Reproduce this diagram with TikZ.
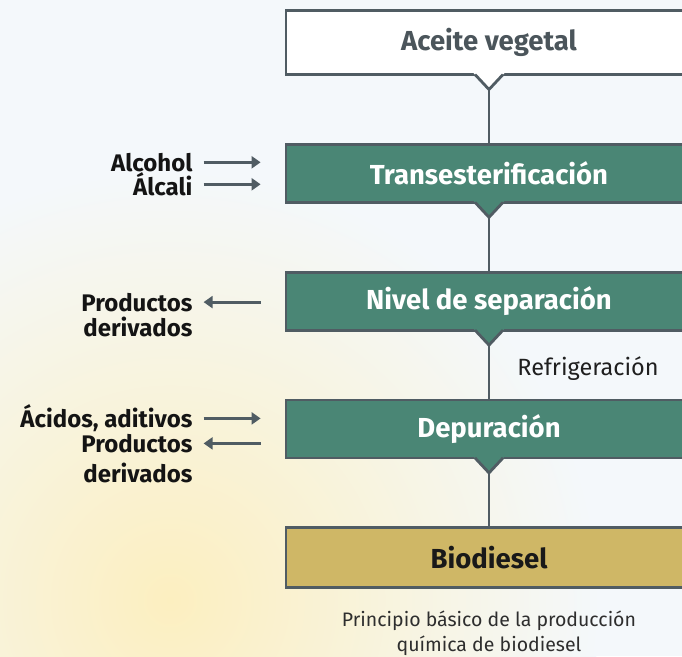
\documentclass[tikz,border=0pt]{standalone}
\usepackage{fontspec}
\setmainfont{Fira Sans}
\usepackage{xcolor}
\usepackage{tikz}
\usetikzlibrary{
  positioning,
  arrows.meta,
  calc}

\definecolor{bgblue}{HTML}{F4F8FB}
\definecolor{bgyellow}{HTML}{FCEFC0}
\definecolor{framegray}{HTML}{505C63}
\definecolor{stagegreen}{HTML}{4A8675}
\definecolor{fuelgold}{HTML}{CFB766}
\definecolor{inkgray}{HTML}{4B555B}

\newcommand\notchbox[2]{%
  \fill[#2] ([xshift=-15.5pt,yshift=2.8pt]#1.south) -- ([yshift=-13.6pt]#1.south)
    -- ([xshift=15.5pt,yshift=2.8pt]#1.south) -- cycle;
  \draw[edge] ([xshift=-14pt,yshift=1.4pt]#1.south) -- ([yshift=-13.6pt]#1.south)
    -- ([xshift=14pt,yshift=1.4pt]#1.south);}

\begin{document}
\begin{tikzpicture}[x=1pt,y=-1pt]
\tikzset{
  edge/.style={draw=framegray, line width=2.8pt, line join=miter},
  box/.style={edge, minimum width=406pt, minimum height=58pt, inner sep=0pt,
    font=\fontsize{27.5}{32}\selectfont\bfseries},
  inbox/.style={box, fill=white, text=inkgray, minimum height=64pt},
  stage/.style={box, fill=stagegreen, text=white},
  fuel/.style={box, fill=fuelgold, text=black!90, minimum height=60pt},
  side/.style={inner sep=0pt, text=black!92, font=\fontsize{24}{28}\selectfont\bfseries},
  note/.style={inner sep=0pt, text=black!88, font=\fontsize{23.5}{28}\selectfont},
  caption/.style={inner sep=0pt, align=center, text=black!82,
    font=\fontsize{19.5}{25}\selectfont},
  feed/.style={draw=framegray, line width=2.8pt, -{Triangle[length=9pt,width=12pt]}},
  node distance=67pt,
}
\clip (0,0) rectangle (682,656);
\fill[bgblue] (0,0) rectangle (682,656);
\shade[inner color=bgyellow, outer color=bgblue] (170,600) circle (430pt);

\node[inbox] (oil) at (489,42.5) {Aceite vegetal};
\node[stage, below=of oil] (trans) {Transesterificación};
\node[stage, below=of trans] (sep) {Nivel de separación};
\node[stage, below=of sep] (dep) {Depuración};
\node[fuel, below=of dep] (bio) {Biodiesel};

\notchbox{oil}{white}
\notchbox{trans}{stagegreen}
\notchbox{sep}{stagegreen}
\notchbox{dep}{stagegreen}

\draw[edge, shorten <=14pt] (oil.south) -- (trans.north);
\draw[edge, shorten <=14pt] (trans.south) -- (sep.north);
\draw[edge, shorten <=14pt] (sep.south) -- (dep.north)
  node[note, pos=0.55, anchor=west, xshift=27pt] (cool) {Refrigeración};
\draw[edge, shorten <=14pt] (dep.south) -- (bio.north);

\node[side, left=92pt of trans.west, anchor=east, yshift=11pt] (alc) {Alcohol};
\node[side, left=92pt of trans.west, anchor=east, yshift=-11pt] (alk) {Álcali};
\node[side, left=92pt of sep.west, anchor=east, yshift=-1pt] (prod) {Productos};
\node[side, anchor=base east] (der) at ([yshift=-25pt]prod.base east) {derivados};
\node[side, left=92pt of dep.west, anchor=east, yshift=10.5pt] (acid) {Ácidos, aditivos};
\node[side, left=92pt of dep.west, anchor=east, yshift=-14.5pt] (prodb) {Productos};
\node[side, anchor=base east] (derb) at ([yshift=-30pt]prodb.base east) {derivados};

\draw[feed, shorten <=11pt, shorten >=24pt] (alc.east) -- (alc.east -| trans.west);
\draw[feed, shorten <=11pt, shorten >=24pt] (alk.east) -- (alk.east -| trans.west);
\draw[feed, shorten <=24pt, shorten >=11pt] (prod.east -| sep.west) -- (prod.east);
\draw[feed, shorten <=11pt, shorten >=24pt] (acid.east) -- (acid.east -| dep.west);
\draw[feed, shorten <=24pt, shorten >=11pt] (prodb.east -| dep.west) -- (prodb.east);

\node[caption, below=22pt of bio] (cap) {Principio básico de la producción\\química de biodiesel};
\end{tikzpicture}
\end{document}
